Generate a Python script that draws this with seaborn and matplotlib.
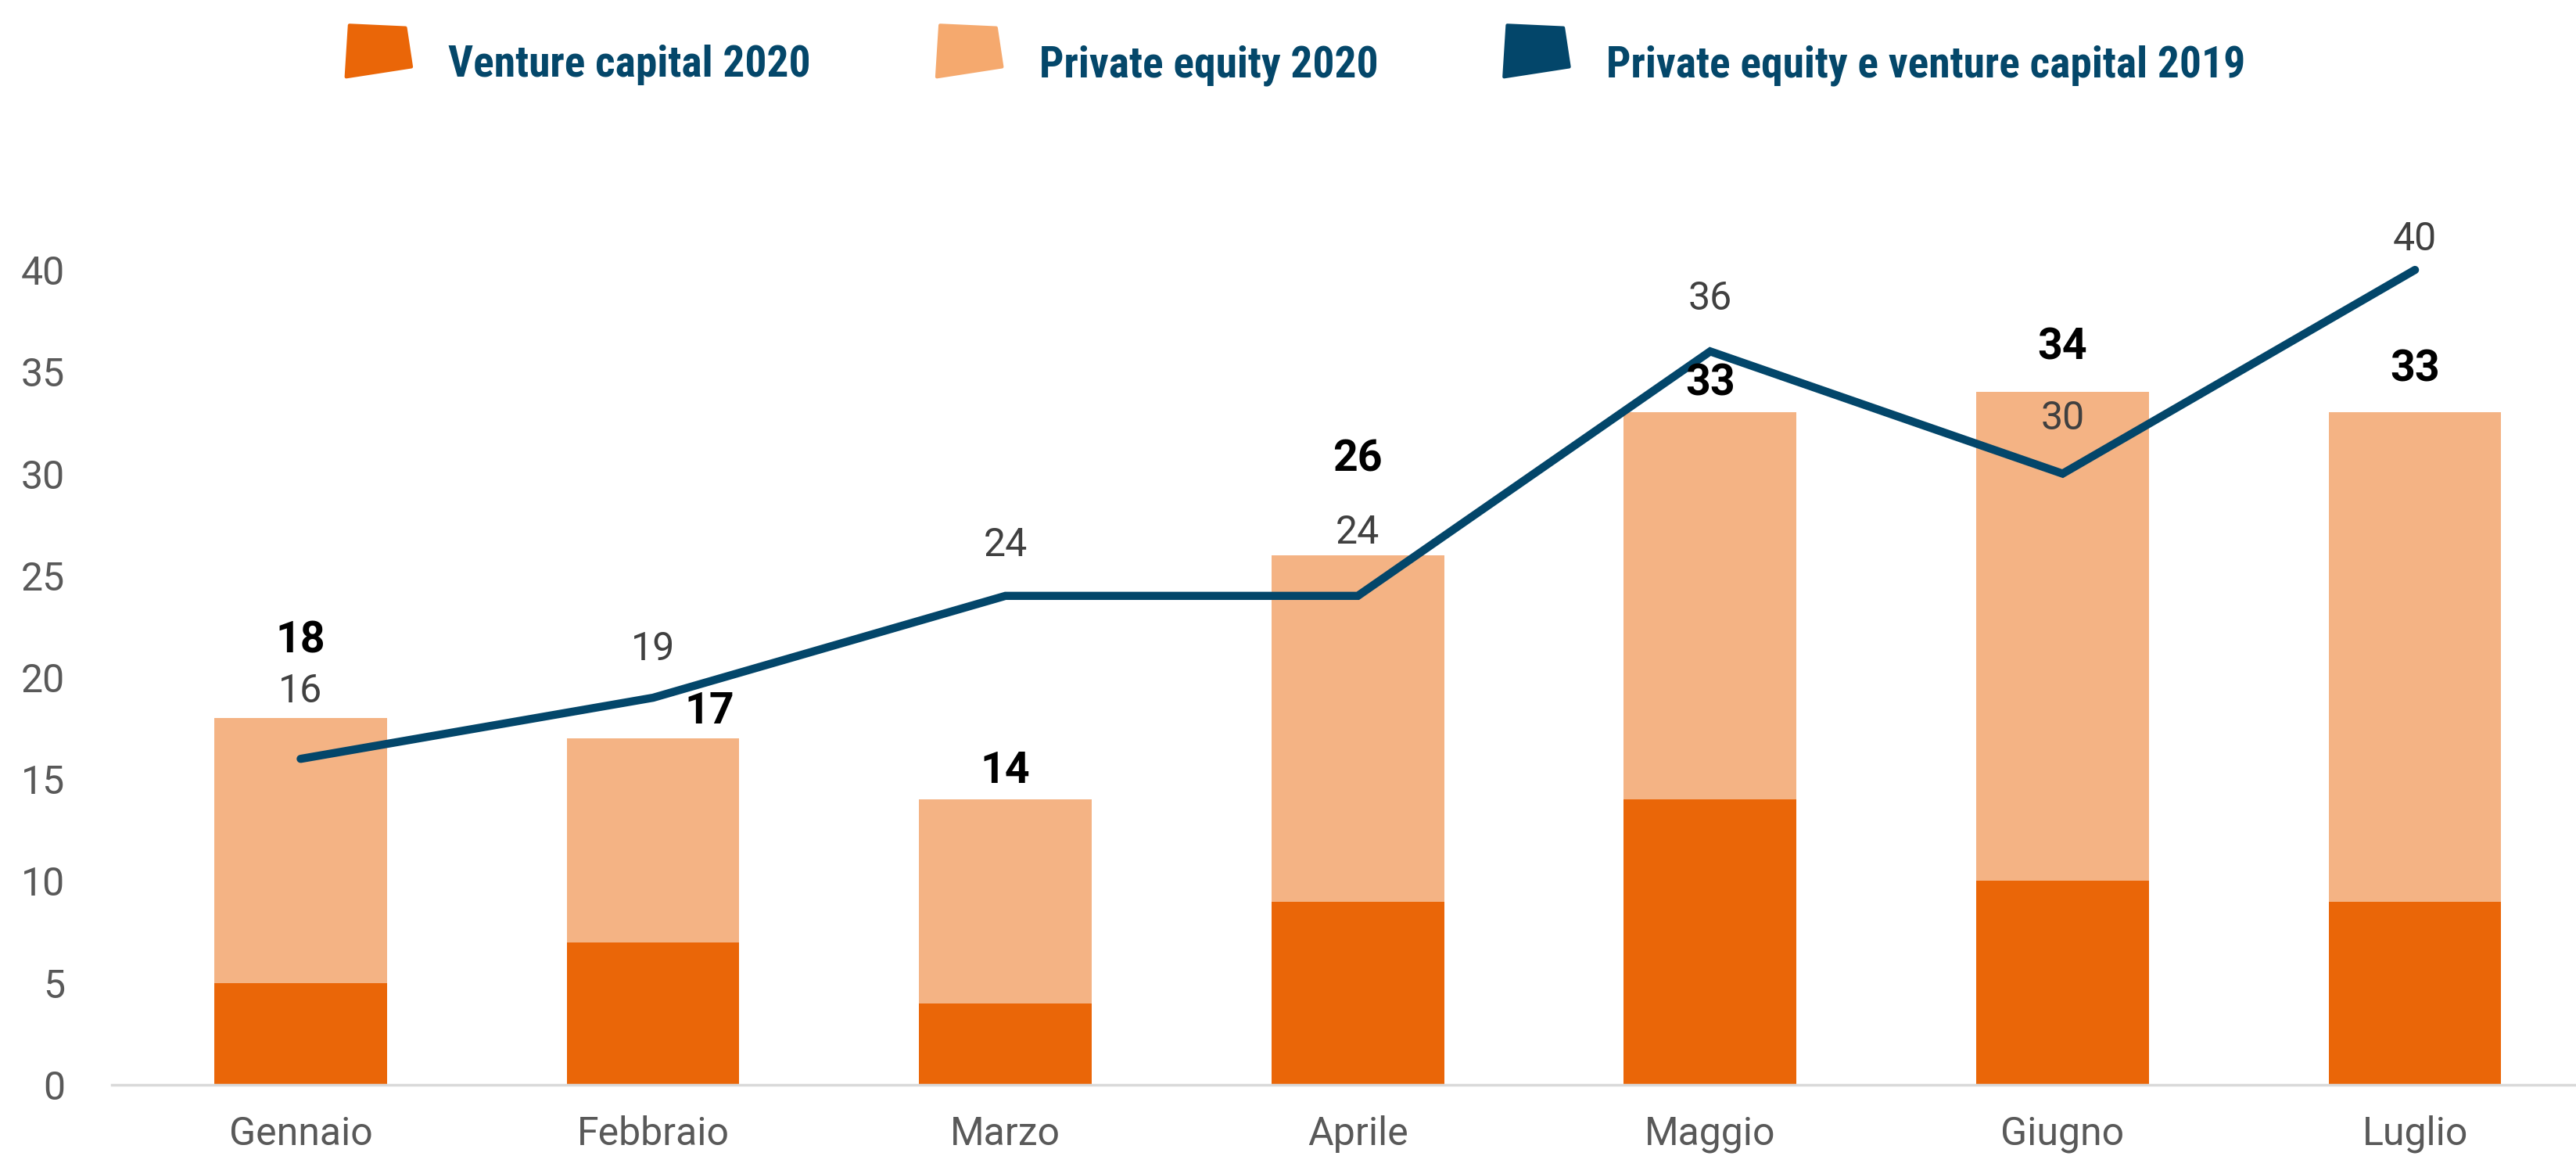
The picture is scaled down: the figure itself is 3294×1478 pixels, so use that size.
import numpy as np
import pandas as pd
import matplotlib
matplotlib.use("Agg")
import matplotlib.pyplot as plt
from matplotlib import font_manager
from matplotlib.patches import Patch, Polygon
from matplotlib.legend_handler import HandlerPatch
import seaborn as sns

# data
months = ["Gennaio", "Febbraio", "Marzo", "Aprile", "Maggio", "Giugno", "Luglio"]
venture_2020 = [5, 7, 4, 9, 14, 10, 9]
private_2020 = [13, 10, 10, 17, 19, 24, 24]
pe_vc_2019 = [16, 19, 24, 24, 36, 30, 40]

# label placement (offsets above the value, in data units)
total_dy = [3.8, 1.3, 1.4, 4.7, 1.4, 2.2, 2.1]
total_dx = [0, 0.16, 0, 0, 0, 0, 0]
line_dy = [3.3, 2.4, 2.5, 3.1, 2.6, 2.7, 1.5]

c_vc = "#EA6608"
c_pe = "#F4B384"
c_line = "#03466A"

sns.set_theme(style="white")

names = {f.name for f in font_manager.fontManager.ttflist}
narrow = "Roboto Condensed" if "Roboto Condensed" in names else "DejaVu Sans"
plt.rcParams["font.family"] = ["Roboto", "DejaVu Sans"]

df = pd.DataFrame({"month": months, "vc": venture_2020, "pe": private_2020, "y2019": pe_vc_2019})
df["total"] = df["vc"] + df["pe"]
df["x"] = np.arange(len(df))

fig = plt.figure(figsize=(32.94, 14.78), dpi=100)
ax = fig.add_axes([0.0434, 0.0616, 0.9566, 0.7754])

# stacked bars: total (private equity on top) then venture capital in front
sns.barplot(data=df, x="month", y="total", color=c_pe, width=0.49, saturation=1,
            linewidth=0, ax=ax)
sns.barplot(data=df, x="month", y="vc", color=c_vc, width=0.49, saturation=1,
            linewidth=0, ax=ax)
sns.lineplot(data=df, x="x", y="y2019", color=c_line, lw=7.5, sort=False, ax=ax,
             solid_joinstyle="miter", solid_capstyle="round")

for i, row in df.iterrows():
    ax.text(row["x"] + total_dx[i], row["total"] + total_dy[i], f"{row['total']}",
            ha="center", va="center", fontsize=40, fontweight="bold", color="black")
    ax.text(row["x"], row["y2019"] + line_dy[i], f"{row['y2019']}",
            ha="center", va="center", fontsize=36, color="#404040")

ax.set_xlim(-0.536, 6.457)
ax.set_ylim(0, 44)
ax.set_yticks(list(range(0, 41, 5)))
ax.set_xlabel("")
ax.set_ylabel("")
for s in ["top", "right", "left"]:
    ax.spines[s].set_visible(False)
ax.spines["bottom"].set_color("#D9D9D9")
ax.spines["bottom"].set_linewidth(2.5)
ax.tick_params(axis="both", length=0, labelsize=36, labelcolor="#595959")
ax.tick_params(axis="x", pad=28)
ax.tick_params(axis="y", pad=43)


class TrapezoidHandler(HandlerPatch):
    def create_artists(self, legend, orig_handle, xdescent, ydescent, width, height,
                       fontsize, trans):
        x0, y0 = -xdescent, -ydescent
        dy = 0.22 * height
        pts = [(x0 + 0.05 * width, y0 + 1.0 * height + dy),
               (x0 + 0.91 * width, y0 + 0.95 * height + dy),
               (x0 + 1.0 * width, y0 + 0.195 * height + dy),
               (x0, y0 + dy)]
        p = Polygon(pts, closed=True, facecolor=orig_handle.get_facecolor(),
                    edgecolor=orig_handle.get_facecolor(), linewidth=3, joinstyle="round")
        p.set_transform(trans)
        return [p]


handles = [Patch(facecolor=c_vc), Patch(facecolor="#F5A96E"), Patch(facecolor=c_line)]
labels = ["Venture capital 2020", "Private equity 2020", "Private equity e venture capital 2019"]
leg = fig.legend(handles, labels, loc="center", bbox_to_anchor=(0.503, 0.946), ncol=3,
                 frameon=False, handlelength=1.5, handleheight=1.45, handletextpad=0.85,
                 columnspacing=2.9, borderpad=0, borderaxespad=0,
                 handler_map={Patch: TrapezoidHandler()},
                 prop={"family": [narrow, "DejaVu Sans"], "size": 40, "weight": "bold"})
for t in leg.get_texts():
    t.set_color("#04476A")

fig.savefig("out.png", dpi=100)
